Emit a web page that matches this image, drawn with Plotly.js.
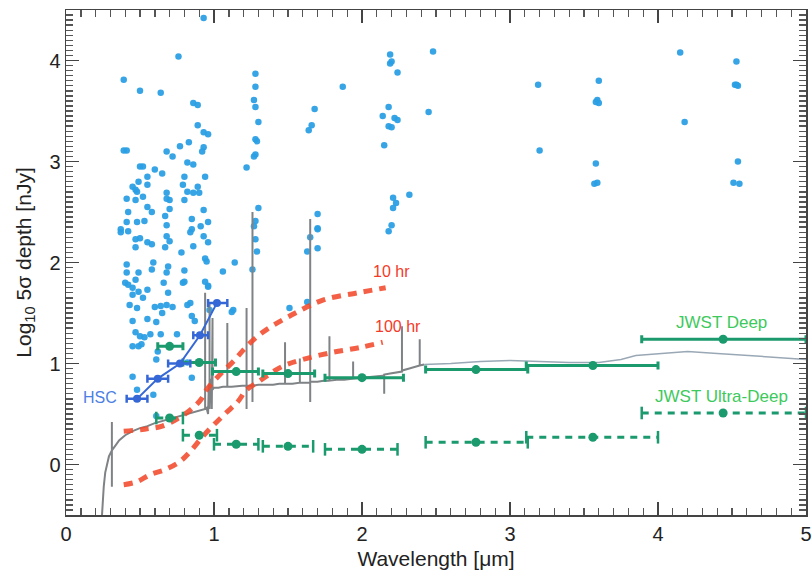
<!DOCTYPE html>
<html>
<head>
<meta charset="utf-8">
<script src="https://cdn.plot.ly/plotly-3.0.1.min.js"></script>
<style>html,body{margin:0;padding:0;background:#fff;}#chart{width:812px;height:573px;}</style>
</head>
<body>
<div id="chart"></div>
<script>
// ---- Blue scatter (galaxy sample) ----
const scatX = [0.93,0.76,0.39,0.50,0.64,0.86,0.89,0.89,0.93,0.96,
0.93,0.39,0.41,0.68,0.72,0.77,0.83,0.82,0.86,0.92,
0.94,0.50,0.52,0.60,0.55,0.49,0.65,0.45,0.47,0.48,
0.55,0.41,0.47,0.52,0.68,0.70,0.68,0.80,0.79,0.82,
0.86,0.89,0.90,0.42,0.55,0.58,0.41,0.48,0.53,0.67,
0.70,0.80,0.93,0.37,0.37,0.42,0.47,0.50,0.55,0.58,
0.47,0.68,0.68,0.70,0.67,0.85,0.85,0.84,0.91,0.96,
0.93,0.96,0.86,0.78,0.41,0.41,0.40,0.42,0.49,0.47,
0.59,0.58,0.69,0.68,0.80,0.80,0.94,0.95,0.94,0.96,
1.06,1.14,0.45,0.55,0.66,0.79,0.68,0.64,0.60,0.72,
0.43,0.48,0.52,0.45,0.55,0.61,0.64,0.65,0.47,0.49,
0.50,0.53,0.84,0.85,0.87,0.96,0.97,0.45,0.48,0.85,
0.82,0.59,0.61,0.45,0.49,0.69,0.82,0.57,0.75,0.51,
0.45,0.62,0.61,1.13,1.12,1.22,1.28,1.28,1.27,1.28,
1.30,1.28,1.29,1.28,1.27,1.30,1.27,1.28,1.29,1.26,
1.28,1.68,1.66,1.64,1.70,1.70,1.70,1.65,1.70,1.63,
1.51,1.63,1.87,2.19,2.19,2.20,2.24,2.18,2.14,2.22,
2.24,2.18,2.20,2.15,2.32,2.21,2.23,2.21,2.20,2.18,
2.48,2.45,3.19,3.20,4.15,4.53,4.53,4.54,4.52,3.60,
3.58,3.59,3.60,4.18,3.58,4.54,3.57,3.59,4.51,4.55];
const scatY = [4.42,4.04,3.81,3.70,3.68,3.58,3.56,3.36,3.29,3.27,
3.14,3.11,3.11,3.10,3.05,3.15,3.19,2.99,2.97,3.10,
2.85,2.95,2.95,2.92,2.85,2.80,2.88,2.75,2.72,2.70,
2.77,2.63,2.62,2.65,2.69,2.62,2.63,2.85,2.77,2.70,
2.69,2.75,2.69,2.50,2.55,2.50,2.40,2.40,2.41,2.46,
2.53,2.62,2.52,2.33,2.30,2.31,2.23,2.24,2.20,2.18,
2.15,2.37,2.26,2.21,2.15,2.43,2.33,2.30,2.36,2.40,
2.26,2.20,2.16,2.10,1.98,1.90,1.80,1.78,1.90,1.83,
2.00,1.93,1.96,1.90,1.92,1.81,2.04,2.01,1.81,1.77,
1.91,2.00,1.75,1.73,1.80,1.80,1.58,1.57,1.56,1.56,
1.58,1.55,1.65,1.42,1.44,1.41,1.29,1.50,1.31,1.17,
1.27,1.26,1.60,1.47,1.42,1.76,1.53,0.87,0.74,0.86,
1.01,0.69,0.48,1.68,1.71,1.70,1.58,1.29,1.29,1.19,
1.17,1.12,1.04,1.53,1.51,2.94,3.87,3.74,3.61,3.54,
3.39,3.22,3.20,3.07,3.05,2.54,2.36,2.23,2.11,1.93,
2.41,3.52,3.36,3.31,2.48,2.34,2.33,2.25,2.14,2.11,
1.55,1.61,3.74,4.06,3.97,3.99,3.88,3.54,3.45,3.43,
3.41,3.35,3.34,3.16,2.67,2.64,2.59,2.54,2.37,2.31,
4.09,3.49,3.76,3.11,4.08,3.99,3.76,3.75,3.76,3.80,
3.59,3.61,3.58,3.39,2.98,3.00,2.78,2.79,2.79,2.78];

// ---- Model galaxy spectrum (grey) ----
const specX = [0.235,0.245,0.255,0.265,0.275,0.29,0.31,0.31,0.31,0.31,0.33,0.36,0.40,0.45,0.50,0.55,0.60,0.65,0.70,0.75,0.80,0.85,0.90,0.93,
0.94,0.94,0.94,0.95,0.96,0.965,0.97,0.97,0.97,0.98,0.985,0.99,0.99,1.00,1.03,1.06,1.09,1.09,1.09,1.12,1.16,1.19,
1.22,1.22,1.22,1.22,1.26,1.26,1.26,1.26,1.30,1.35,1.40,1.44,1.48,1.48,1.48,1.53,1.58,1.58,1.58,1.62,
1.65,1.65,1.65,1.65,1.70,1.74,1.78,1.78,1.78,1.83,1.88,1.94,1.94,1.94,2.00,2.06,2.12,2.15,2.15,2.15,
2.19,2.23,2.27,2.27,2.27,2.32,2.36,2.39,2.39,2.39,2.42];
const specY = [-0.70,-0.40,-0.22,-0.08,0.00,0.08,0.14,0.42,-0.22,0.14,0.18,0.24,0.29,0.33,0.36,0.38,0.41,0.43,0.45,0.47,0.49,0.51,0.53,0.54,
0.55,1.70,0.55,0.56,0.50,0.80,0.55,1.60,0.60,0.85,0.55,1.45,0.74,0.76,0.76,0.77,0.77,1.40,0.77,0.77,0.78,0.78,
0.78,1.55,0.55,0.78,0.78,2.50,0.62,0.78,0.79,0.79,0.79,0.80,0.80,1.21,0.80,0.80,0.81,1.05,0.81,0.81,
0.81,2.43,0.62,0.82,0.82,0.83,0.83,1.27,0.83,0.84,0.84,0.85,1.02,0.85,0.86,0.87,0.88,0.88,0.70,0.89,
0.90,0.91,0.92,1.37,0.93,0.95,0.97,0.98,1.24,0.98,0.99];
const specRX = [2.42,2.6,2.8,3.0,3.2,3.4,3.6,3.75,3.85,4.0,4.2,4.4,4.6,4.8,5.0];
const specRY = [0.99,1.00,1.02,1.03,1.02,1.01,1.01,1.04,1.08,1.10,1.12,1.10,1.08,1.06,1.04];

// ---- Ground-based depth curves ----
const hr10X = [0.39,0.53,0.65,0.75,0.84,0.91,0.95,1.04,1.13,1.19,1.27,1.36,1.55,1.74,1.97,2.16];
const hr10Y = [0.33,0.35,0.38,0.45,0.54,0.64,0.74,0.89,1.02,1.12,1.24,1.34,1.50,1.63,1.70,1.75];
const hr100X = [0.39,0.48,0.57,0.67,0.77,0.84,0.92,0.99,1.08,1.16,1.22,1.30,1.46,1.60,1.80,1.99,2.14];
const hr100Y = [-0.20,-0.17,-0.10,-0.05,0.03,0.13,0.27,0.38,0.51,0.62,0.74,0.82,0.97,1.04,1.11,1.16,1.21];

// ---- HSC ----
const hscX  = [0.48,0.62,0.77,0.905,1.02];
const hscY  = [0.65,0.85,1.00,1.28,1.60];
const hscLo = [0.41,0.55,0.69,0.86,0.96];
const hscHi = [0.55,0.69,0.84,0.96,1.09];

// ---- JWST Deep ----
const deepX  = [0.70,0.90,1.15,1.50,2.00,2.77,3.56,4.44];
const deepY  = [1.17,1.01,0.92,0.90,0.86,0.94,0.98,1.24];
const deepLo = [0.62,0.79,0.99,1.33,1.75,2.43,3.11,3.89];
const deepHi = [0.79,1.01,1.30,1.68,2.28,3.12,4.00,5.00];

// ---- JWST Ultra-Deep ----
const udX  = [0.70,0.90,1.15,1.50,2.00,2.77,3.56,4.44];
const udY  = [0.46,0.29,0.20,0.18,0.15,0.22,0.27,0.51];
const udLo = [0.61,0.79,1.00,1.33,1.75,2.43,3.11,3.89];
const udHi = [0.79,1.02,1.30,1.67,2.24,3.12,4.00,5.00];

const GREEN = '#1b9a6e';
const HSCBLUE = '#3568d6';
const RED = '#f24a2c';

function segs(lo, hi, y) {
  const sx = [], sy = [];
  for (let i = 0; i < y.length; i++) { sx.push(lo[i], hi[i], null); sy.push(y[i], y[i], null); }
  return {sx, sy};
}
function caps(lo, hi, y) {
  const cx = [], cy = [];
  for (let i = 0; i < y.length; i++) { cx.push(lo[i], hi[i]); cy.push(y[i], y[i]); }
  return {cx, cy};
}
const udS = segs(udLo, udHi, udY);
const udC = caps(udLo, udHi, udY);

const traces = [
  {x: scatX, y: scatY, mode: 'markers', type: 'scatter',
   marker: {color: '#2b9fe4', size: 6.5, opacity: 0.95}, hoverinfo: 'skip'},
  {x: specX, y: specY, mode: 'lines', type: 'scatter',
   line: {color: '#7f8386', width: 2}},
  {x: specRX, y: specRY, mode: 'lines', type: 'scatter',
   line: {color: '#9aa8b6', width: 1.5}},
  {x: hr10X, y: hr10Y, mode: 'lines', type: 'scatter',
   line: {color: RED, width: 5, dash: '9px,7px', shape: 'spline'}, opacity: 0.88},
  {x: hr100X, y: hr100Y, mode: 'lines', type: 'scatter',
   line: {color: RED, width: 5, dash: '9px,7px', shape: 'spline'}, opacity: 0.88},
  {x: udS.sx, y: udS.sy, mode: 'lines', type: 'scatter',
   line: {color: GREEN, width: 3, dash: '7px,6px'}},
  {x: udC.cx, y: udC.cy, mode: 'markers', type: 'scatter',
   marker: {symbol: 'line-ns-open', size: 9, color: GREEN, line: {color: GREEN, width: 2.5}}},
  {x: udX, y: udY, mode: 'markers', type: 'scatter',
   marker: {color: GREEN, size: 9}},
  {x: deepX, y: deepY, mode: 'markers', type: 'scatter',
   marker: {color: GREEN, size: 9},
   error_x: {type: 'data', symmetric: false,
     array: deepHi.map((h, i) => h - deepX[i]),
     arrayminus: deepX.map((c, i) => c - deepLo[i]),
     color: GREEN, thickness: 3, width: 4}},
  {x: hscX, y: hscY, mode: 'lines+markers', type: 'scatter',
   line: {color: HSCBLUE, width: 2},
   marker: {color: HSCBLUE, size: 8},
   error_x: {type: 'data', symmetric: false,
     array: hscHi.map((h, i) => h - hscX[i]),
     arrayminus: hscX.map((c, i) => c - hscLo[i]),
     color: HSCBLUE, thickness: 2.5, width: 4}}
];

const FONT = 'Liberation Sans, Arial, sans-serif';
const axisCommon = {
  showgrid: false, zeroline: false, showline: true, linecolor: '#444', linewidth: 1.5,
  mirror: 'ticks', ticks: 'inside', ticklen: 13, tickwidth: 1.6, tickcolor: '#444',
  tickfont: {family: FONT, size: 20, color: '#222'}
};

const layout = {
  width: 812, height: 573,
  margin: {l: 66, r: 6, t: 10, b: 58},
  paper_bgcolor: '#fff', plot_bgcolor: '#fff',
  showlegend: false,
  font: {family: FONT, color: '#222'},
  xaxis: Object.assign({}, axisCommon, {
    range: [0, 5], tickmode: 'linear', dtick: 1, tick0: 0,
    minor: {dtick: 0.1, tick0: 0, ticks: 'inside', ticklen: 7, tickcolor: '#555', tickwidth: 1.4, showgrid: false},
    title: {text: 'Wavelength [μm]', font: {family: FONT, size: 21, color: '#222'}, standoff: 8}
  }),
  yaxis: Object.assign({}, axisCommon, {
    range: [-0.5, 4.5], tickmode: 'linear', dtick: 1, tick0: 0,
    minor: {dtick: 0.05, tick0: 0, ticks: 'inside', ticklen: 7, tickcolor: '#555', tickwidth: 1.4, showgrid: false},
    title: {text: 'Log<sub>10</sub> 5σ depth [nJy]', font: {family: FONT, size: 21, color: '#222'}, standoff: 12}
  }),
  annotations: [
    {x: 0.23, y: 0.66, text: 'HSC', showarrow: false, font: {family: FONT, size: 16, color: '#4d80e4'}},
    {x: 2.20, y: 1.91, text: '10 hr', showarrow: false, font: {family: FONT, size: 16, color: '#f43a28'}},
    {x: 2.24, y: 1.37, text: '100 hr', showarrow: false, font: {family: FONT, size: 16, color: '#f43a28'}},
    {x: 4.43, y: 1.41, text: 'JWST Deep', showarrow: false, font: {family: FONT, size: 17, color: '#3dc95c'}},
    {x: 4.43, y: 0.67, text: 'JWST Ultra-Deep', showarrow: false, font: {family: FONT, size: 17, color: '#3dc95c'}}
  ]
};

Plotly.newPlot('chart', traces, layout, {displayModeBar: false, staticPlot: true});
</script>
</body>
</html>
